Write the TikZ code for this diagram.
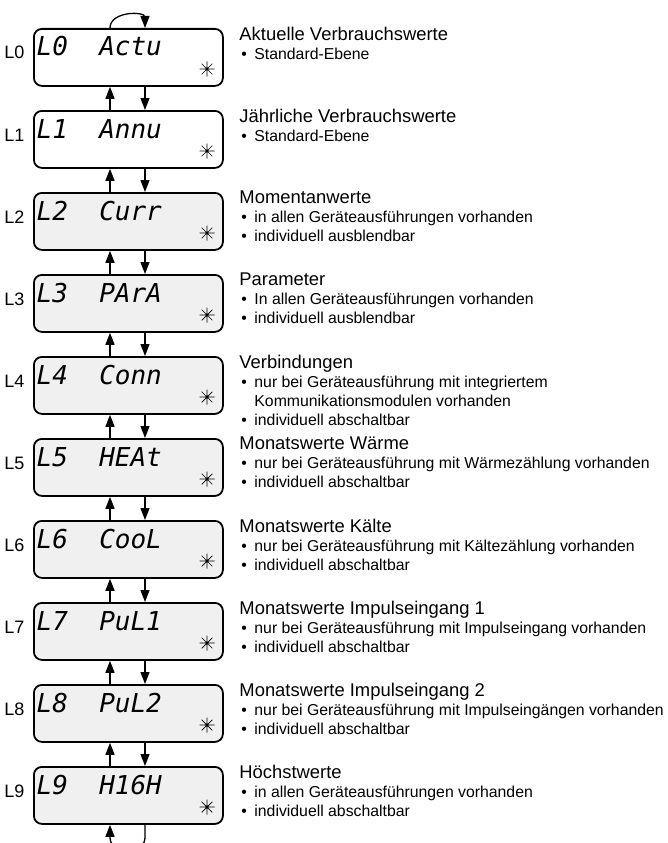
\documentclass[tikz,border=0pt]{standalone}
\usepackage{fontspec}
\setmainfont{Liberation Sans}
\newfontfamily\lcdfont{DejaVu Sans Mono}
\usetikzlibrary{arrows.meta}
\tikzset{>={Triangle[length=12pt,width=9pt]}}
\tikzset{
  lcdbox/.style={draw, line width=1.8pt, rounded corners=8pt, minimum width=189pt, minimum height=57pt, inner sep=0pt, anchor=north west},
  lcdtext/.style={font=\lcdfont\itshape\fontsize{26}{26}\selectfont, inner sep=0pt, anchor=base west},
  lvl/.style={font=\fontsize{18}{18}\selectfont, inner sep=0pt, anchor=base east},
  info/.style={font=\fontsize{15.8}{19}\selectfont, align=left, inner sep=0pt, anchor=north west},
  lcdstar/.pic={
    \draw[line width=0.7pt] (-7.5,0) -- (7.5,0) (0,-7.5) -- (0,7.5)
      (-5.3,-5.3) -- (5.3,5.3) (-5.3,5.3) -- (5.3,-5.3);
    \fill (0,0) circle (1.7);
  }
}
\newcommand{\ttl}[1]{{\fontsize{18.4}{19}\selectfont #1}}
\newcommand{\itm}[1]{\hspace*{2pt}\makebox[13pt][l]{\textbullet}#1}

\begin{document}
\begin{tikzpicture}[x=1pt, y=-1pt, line width=1.3pt]
\useasboundingbox (0,0) rectangle (667,843);
\coordinate (up) at (110,0);
\coordinate (dn) at (145,0);

\foreach \i/\word/\bg in {0/Actu/white, 1/Annu/white, 2/Curr/gray!12, 3/PArA/gray!12, 4/Conn/gray!12,
  5/HEAt/gray!12, 6/CooL/gray!12, 7/PuL1/gray!12, 8/PuL2/gray!12, 9/H16H/gray!12} {
  \node[lcdbox, fill=\bg] (b\i) at (33, 28+82*\i) {};
  \node[lcdtext] (d\i) at ([xshift=3pt, yshift=-28pt]b\i.north west) {L\i\ \ \word};
  \node[lvl] (l\i) at ([xshift=-8pt, yshift=-31pt]b\i.north west) {L\i};
  \pic at ([xshift=174pt, yshift=-41pt]b\i.north west) {lcdstar};
}

\foreach \i [count=\j] in {0,...,8} {
  \draw[->] (b\j.north -| up) -- (b\i.south -| up);
  \draw[->] (b\i.south -| dn) -- (b\j.north -| dn);
}

\coordinate (loop) at (145,17);
\draw (b0.north -| up) .. controls +(0,-17) and +(0,-6) .. (loop);
\draw[->] (loop) -- (b0.north -| dn);
\coordinate (back) at (127,848);
\draw[->, rounded corners=10pt] (b9.south -| dn) |- (back) -| (b9.south -| up);

\node[info] (t0) at ([xshift=15pt, yshift=1.5pt]b0.north east)
  {\ttl{Aktuelle Verbrauchswerte}\\\itm{Standard-Ebene}};
\node[info] (t1) at ([xshift=15pt, yshift=1.5pt]b1.north east)
  {\ttl{Jährliche Verbrauchswerte}\\\itm{Standard-Ebene}};
\node[info] (t2) at ([xshift=15pt, yshift=1.5pt]b2.north east)
  {\ttl{Momentanwerte}\\\itm{in allen Geräteausführungen vorhanden}\\\itm{individuell ausblendbar}};
\node[info] (t3) at ([xshift=15pt, yshift=1.5pt]b3.north east)
  {\ttl{Parameter}\\\itm{In allen Geräteausführungen vorhanden}\\\itm{individuell ausblendbar}};
\node[info] (t4) at ([xshift=15pt, yshift=1.5pt]b4.north east)
  {\ttl{Verbindungen}\\\itm{nur bei Geräteausführung mit integriertem}\\\hspace*{15pt}Kommunikationsmodulen vorhanden\\\itm{individuell abschaltbar}};
\node[info] (t5) at ([xshift=15pt, yshift=1.5pt]b5.north east)
  {\ttl{Monatswerte Wärme}\\\itm{nur bei Geräteausführung mit Wärmezählung vorhanden}\\\itm{individuell abschaltbar}};
\node[info] (t6) at ([xshift=15pt, yshift=1.5pt]b6.north east)
  {\ttl{Monatswerte Kälte}\\\itm{nur bei Geräteausführung mit Kältezählung vorhanden}\\\itm{individuell abschaltbar}};
\node[info] (t7) at ([xshift=15pt, yshift=1.5pt]b7.north east)
  {\ttl{Monatswerte Impulseingang 1}\\\itm{nur bei Geräteausführung mit Impulseingang vorhanden}\\\itm{individuell abschaltbar}};
\node[info] (t8) at ([xshift=15pt, yshift=1.5pt]b8.north east)
  {\ttl{Monatswerte Impulseingang 2}\\\itm{nur bei Geräteausführung mit Impulseingängen vorhanden}\\\itm{individuell abschaltbar}};
\node[info] (t9) at ([xshift=15pt, yshift=1.5pt]b9.north east)
  {\ttl{Höchstwerte}\\\itm{in allen Geräteausführungen vorhanden}\\\itm{individuell abschaltbar}};
\end{tikzpicture}
\end{document}
